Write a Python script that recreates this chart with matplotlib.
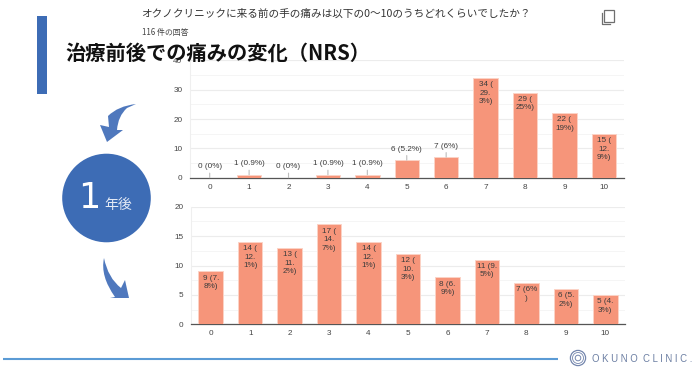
"""Recreate the NRS before/after slide."""

import matplotlib

matplotlib.use("Agg")
import matplotlib.pyplot as plt
from matplotlib.patches import Circle, PathPatch, Rectangle
from matplotlib.path import Path

W, H = 698, 370
JP = ["Noto Sans CJK JP", "DejaVu Sans"]
LATIN = ["Liberation Sans", "DejaVu Sans"]
plt.rcParams["font.family"] = LATIN

scores = ["0", "1", "2", "3", "4", "5", "6", "7", "8", "9", "10"]

before_counts = [0, 1, 0, 1, 1, 6, 7, 34, 29, 22, 15]
before_labels = ["0 (0%)", "1 (0.9%)", "0 (0%)", "1 (0.9%)", "1 (0.9%)", "6 (5.2%)", "7 (6%)",
                 "34 (\n29.\n3%)", "29 (\n25%)", "22 (\n19%)", "15 (\n12.\n9%)"]
before_ticks = [0, 10, 20, 30, 40]
before_minor = [5, 15, 25, 35]

after_counts = [9, 14, 13, 17, 14, 12, 8, 11, 7, 6, 5]
after_labels = ["9 (7.\n8%)", "14 (\n12.\n1%)", "13 (\n11.\n2%)", "17 (\n14.\n7%)", "14 (\n12.\n1%)",
                "12 (\n10.\n3%)", "8 (6.\n9%)", "11 (9.\n5%)", "7 (6%\n)", "6 (5.\n2%)", "5 (4.\n3%)"]
after_ticks = [0, 5, 10, 15, 20]
after_minor = [2.5, 7.5, 12.5, 17.5]

BAR = "#f6957a"
BAR_EDGE = "#fcd3c6"
BLUE = "#3d6cb5"
TEXT = "#3c3c3c"


def draw_chart(fig, left, right, top, bottom, counts, labels, ticks, minor, outside_below):
    ax = fig.add_axes([left / W, 1 - bottom / H, (right - left) / W, (bottom - top) / H])
    ax.bar(range(len(scores)), counts, width=0.62, color=BAR, edgecolor=BAR_EDGE, linewidth=0.7, zorder=3)
    ax.set_xlim(-0.5, len(scores) - 0.5)
    ax.set_ylim(0, ticks[-1])
    ax.set_xticks(range(len(scores)))
    ax.set_xticklabels(scores)
    ax.set_yticks(ticks)
    ax.set_yticks(minor, minor=True)
    ax.tick_params(axis="both", which="both", length=0, labelsize=5.9, labelcolor="#444444")
    ax.tick_params(axis="x", pad=4.2)
    ax.tick_params(axis="y", pad=5.5)
    ax.grid(True, axis="y", which="major", color="#ececec", linewidth=0.8, zorder=0)
    ax.grid(True, axis="y", which="minor", color="#f5f5f5", linewidth=0.7, zorder=0)
    for side in ["top", "right"]:
        ax.spines[side].set_visible(False)
    ax.spines["left"].set_color("#efefef")
    ax.spines["bottom"].set_color("#555555")
    ax.spines["bottom"].set_linewidth(0.9)

    for i, (count, label) in enumerate(zip(counts, labels)):
        if count < outside_below:
            ax.annotate(label, (i, count), xytext=(0, 7.8), textcoords="offset points",
                        ha="center", va="center", fontsize=5.9, color=TEXT, zorder=5,
                        arrowprops=dict(arrowstyle="-", color="#bdbdbd", lw=0.8, shrinkA=0, shrinkB=0))
        else:
            ax.annotate(label, (i, count), xytext=(0, -2.4), textcoords="offset points",
                        ha="center", va="top", fontsize=5.9, color=TEXT, linespacing=1.3, zorder=5)
    return ax


fig = plt.figure(figsize=(W / 100, H / 100), dpi=100)

draw_chart(fig, 190, 623.5, 60.3, 177.7, before_counts, before_labels, before_ticks, before_minor, 10)
draw_chart(fig, 191, 625, 206.7, 324.3, after_counts, after_labels, after_ticks, after_minor, 1)

# overlay in pixel coordinates for the slide furniture
over = fig.add_axes([0, 0, 1, 1], zorder=10)
over.set_xlim(0, W)
over.set_ylim(H, 0)
over.axis("off")

over.text(141.5, 13.5, "オクノクリニックに来る前の手の痛みは以下の0〜10のうちどれくらいでしたか？",
          family=JP, fontsize=7.65, color="#333333", va="center", ha="left")
over.text(142, 32, "116 件の回答", family=JP, fontsize=5.7, color="#444444", va="center", ha="left")
over.text(65.5, 53, "治療前後での痛みの変化（NRS）", family=JP, fontsize=14.6, fontweight="bold",
          color="#111111", va="center", ha="left")

over.add_patch(Rectangle((37, 16), 10, 78, color=BLUE, lw=0))
over.add_patch(Circle((106.5, 198), 44.3, color=BLUE, lw=0))
over.text(89.5, 197.5, "1", family=["DejaVu Sans"], fontsize=25, color="white", ha="center", va="center")
over.text(118, 205, "年後", family=JP, fontsize=10, color="#e4eaf5", ha="center", va="center")

arrow_top = Path(
    [(136, 104), (118, 106), (108, 116), (109, 127), (100, 125), (107, 142), (123, 130), (117, 130),
     (118, 116), (127, 108), (136, 104), (136, 104)],
    [Path.MOVETO, Path.CURVE3, Path.CURVE3, Path.LINETO, Path.LINETO, Path.LINETO, Path.LINETO, Path.LINETO,
     Path.CURVE3, Path.CURVE3, Path.LINETO, Path.CLOSEPOLY],
)
over.add_patch(PathPatch(arrow_top, facecolor="#4f78bd", lw=0))
arrow_bottom = Path(
    [(104, 258), (100, 276), (115, 297), (110, 298), (129, 298), (125, 280), (121, 288),
     (108, 278), (104, 258), (104, 258)],
    [Path.MOVETO, Path.CURVE3, Path.CURVE3, Path.LINETO, Path.LINETO, Path.LINETO, Path.LINETO,
     Path.CURVE3, Path.CURVE3, Path.CLOSEPOLY],
)
over.add_patch(PathPatch(arrow_bottom, facecolor="#4f78bd", lw=0))

# copy icon, top right
over.add_patch(Rectangle((604, 10), 9.5, 11.5, fill=False, edgecolor="#6f6f6f", lw=0.9))
over.plot([602, 602, 610], [13, 23.5, 23.5], color="#6f6f6f", lw=0.9)

# footer rule and clinic logo
over.plot([3, 558], [359, 359], color="#5b9bd5", lw=1.5, solid_capstyle="butt")
over.add_patch(Circle((578, 358), 7.6, fill=False, edgecolor="#7486ad", lw=0.9))
over.add_patch(Circle((578, 358), 5.5, fill=False, edgecolor="#7486ad", lw=0.6))
over.add_patch(Circle((578, 358), 2.8, fill=False, edgecolor="#7486ad", lw=0.7))
over.text(592, 358.5, "O K U N O  C L I N I C .", family=LATIN, fontsize=6.9, color="#6c7fa3",
          ha="left", va="center")

fig.savefig("out.png", dpi=100)
plt.close(fig)
